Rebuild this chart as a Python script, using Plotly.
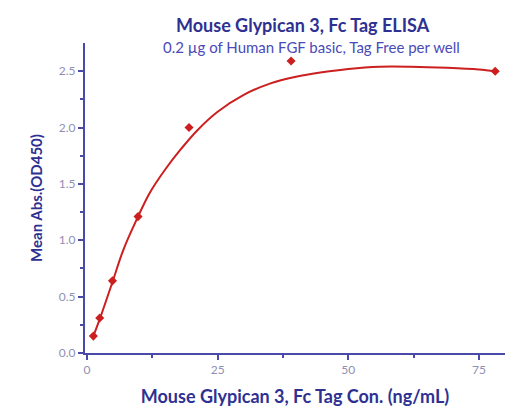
import plotly.graph_objects as go

conc = [1.22, 2.44, 4.88, 9.77, 19.53, 39.06, 78.125]
od450 = [0.15, 0.31, 0.64, 1.21, 2.00, 2.59, 2.50]

fit_x = [1.22, 2.44, 4.88, 7, 9.77, 12, 15, 18, 21, 25, 30, 35, 40, 45, 50, 56, 62, 69, 75, 78.125]
fit_y = [0.15, 0.30, 0.63, 0.92, 1.21, 1.42, 1.63, 1.81, 1.97, 2.14, 2.29, 2.39, 2.45, 2.49, 2.52, 2.54, 2.54, 2.53, 2.515, 2.50]

x_ticks = [0, 25, 50, 75]
y_ticks = [0.0, 0.5, 1.0, 1.5, 2.0, 2.5]

blue = "#2e3192"
axis_blue = "#4a4aa8"
tick_grey = "#8f8fb4"
red = "#cc1f1f"
font = "Lato"

# page body has an 8px margin; plot area target in window px: x 85..505, y 43..353
L, T = 77, 35
PW, PH = 420, 310
W, H = 499, 403

fig = go.Figure()
fig.add_trace(go.Scatter(x=fit_x, y=fit_y, mode="lines", line=dict(color=red, width=2, shape="spline"),
                         hoverinfo="skip", showlegend=False))
fig.add_trace(go.Scatter(x=conc, y=od450, mode="markers",
                         marker=dict(symbol="diamond", size=7, color=red), showlegend=False))

fig.update_layout(
    width=W, height=H,
    margin=dict(l=L, r=W - L - PW, t=T, b=H - T - PH, autoexpand=False),
    paper_bgcolor="white", plot_bgcolor="white",
    font=dict(family=font),
    xaxis=dict(range=[-0.38, 80], tickvals=x_ticks, ticktext=[str(v) for v in x_ticks],
               showgrid=False, zeroline=False, showline=True, linecolor=axis_blue, linewidth=2,
               ticks="outside", ticklen=5, tickwidth=2, tickcolor=axis_blue,
               minor=dict(tickvals=[12.5, 37.5, 62.5], ticks="outside", ticklen=3, tickwidth=1.5, tickcolor=axis_blue),
               tickfont=dict(size=12, color=tick_grey, family=font),
               title=dict(text="<b>Mouse Glypican 3, Fc Tag Con. (ng/mL)</b>", font=dict(size=18, color=blue, family=font), standoff=14)),
    yaxis=dict(range=[0, 2.75], tickvals=y_ticks, ticktext=[f"{v:.1f}" for v in y_ticks],
               showgrid=False, zeroline=False, showline=True, linecolor=axis_blue, linewidth=2,
               ticks="outside", ticklen=5, tickwidth=2, tickcolor=axis_blue,
               minor=dict(tickvals=[0.25, 0.75, 1.25, 1.75, 2.25], ticks="outside", ticklen=3, tickwidth=1.5, tickcolor=axis_blue),
               tickfont=dict(size=12, color=tick_grey, family=font),
               title=dict(text="<b>Mean Abs.(OD450)</b>", font=dict(size=15, color=blue, family=font), standoff=13)),
)

# titles placed by window pixel position -> paper coords
titles = [
    ("<b>Mouse Glypican 3, Fc Tag ELISA</b>", 303, 25, 18, blue),
    ("0.2 µg of Human FGF basic, Tag Free per well", 311, 47, 15, "#4a4ab8"),
]
for text, px, py, size, col in titles:
    fig.add_annotation(text=text, x=(px - 85) / PW, y=(353 - py) / PH, xref="paper", yref="paper",
                       xanchor="center", yanchor="middle", showarrow=False,
                       font=dict(size=size, color=col, family=font))

fig.write_html("out.html")
